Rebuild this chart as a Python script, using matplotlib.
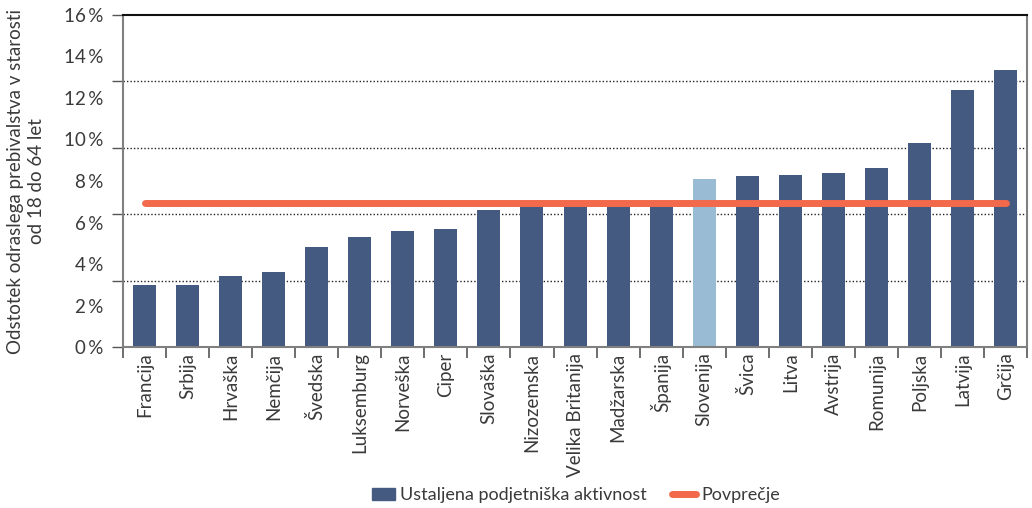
import numpy as np
import matplotlib.pyplot as plt
from matplotlib.lines import Line2D
from matplotlib.patches import Patch
from matplotlib.ticker import FixedLocator, FixedFormatter

countries = ["Francija", "Srbija", "Hrvaška", "Nemčija", "Švedska", "Luksemburg",
             "Norveška", "Ciper", "Slovaška", "Nizozemska", "Velika Britanija",
             "Madžarska", "Španija", "Slovenija", "Švica", "Litva", "Avstrija",
             "Romunija", "Poljska", "Latvija", "Grčija"]
values = [3.0, 3.0, 3.4, 3.6, 4.8, 5.3, 5.6, 5.7, 6.6, 6.85, 6.9, 6.9, 6.9,
          8.1, 8.25, 8.3, 8.4, 8.65, 9.85, 12.4, 13.35]
average = 6.95
highlight = "Slovenija"

label_ticks = [0, 2, 4, 6, 8, 10, 12, 14, 16]
grid_ticks = [0, 3.2, 6.4, 9.6, 12.8, 16]

DARK = "#455a80"
LIGHT = "#99bbd3"
ORANGE = "#f2694c"
TXT = "#3a3a3a"

plt.rcParams["font.family"] = ["Lato", "DejaVu Sans"]
plt.rcParams["font.size"] = 13.5

fig = plt.figure(figsize=(10.32, 5.08), dpi=100)
ax = fig.add_axes([0.1192, 0.3169, 0.8760, 0.6536])

x = np.arange(len(countries))
colors = [LIGHT if c == highlight else DARK for c in countries]
ax.bar(x, values, width=0.535, color=colors, zorder=2)
ax.plot([x[0], x[-1]], [average, average], color=ORANGE, lw=5,
        solid_capstyle="round", zorder=3)

ax.set_xlim(-0.5, len(countries) - 0.5)
ax.set_ylim(0, 16)

# grid lines / tick marks at fifths of the range, labels every 2 %
ax.yaxis.remove_overlapping_locs = False
ax.yaxis.set_major_locator(FixedLocator(grid_ticks))
ax.yaxis.set_major_formatter(FixedFormatter([""] * len(grid_ticks)))
ax.yaxis.set_minor_locator(FixedLocator(label_ticks))
ax.yaxis.set_minor_formatter(FixedFormatter([f"{v}\u2009%" for v in label_ticks]))
ax.tick_params(axis="y", which="major", length=8, width=1, color="#555555")
ax.tick_params(axis="y", which="minor", length=0, pad=14, labelcolor=TXT)
for g in grid_ticks[1:-1]:
    ax.axhline(g, color="#222222", lw=1, ls=(0, (1, 1.5)), zorder=1)

ax.xaxis.remove_overlapping_locs = False
ax.set_xticks(x)
ax.set_xticklabels(countries, rotation=90, color=TXT)
ax.tick_params(axis="x", which="major", length=0, pad=4)
ax.set_xticks(np.arange(-0.5, len(countries)), minor=True)
ax.tick_params(axis="x", which="minor", length=8, width=1.2, color="#555555",
               direction="out")

for s in ["left", "right", "bottom"]:
    ax.spines[s].set_color("#808080")
    ax.spines[s].set_linewidth(1.5)
ax.spines["top"].set_color("#111111")
ax.spines["top"].set_linewidth(1.5)

ax.set_ylabel("Odstotek odraslega prebivalstva v starosti\nod 18 do 64 let",
              color=TXT, labelpad=14, linespacing=1.25)

handles = [Patch(color=DARK),
           Line2D([0], [0], color=ORANGE, lw=5, solid_capstyle="round")]
fig.legend(handles, ["Ustaljena podjetniška aktivnost", "Povprečje"],
           loc="center", bbox_to_anchor=(0.558, 0.025), ncol=2, frameon=False,
           fontsize=13, handlelength=1.3, handletextpad=0.3, columnspacing=1.4,
           labelcolor=TXT)

fig.savefig("out.png", dpi=100)
